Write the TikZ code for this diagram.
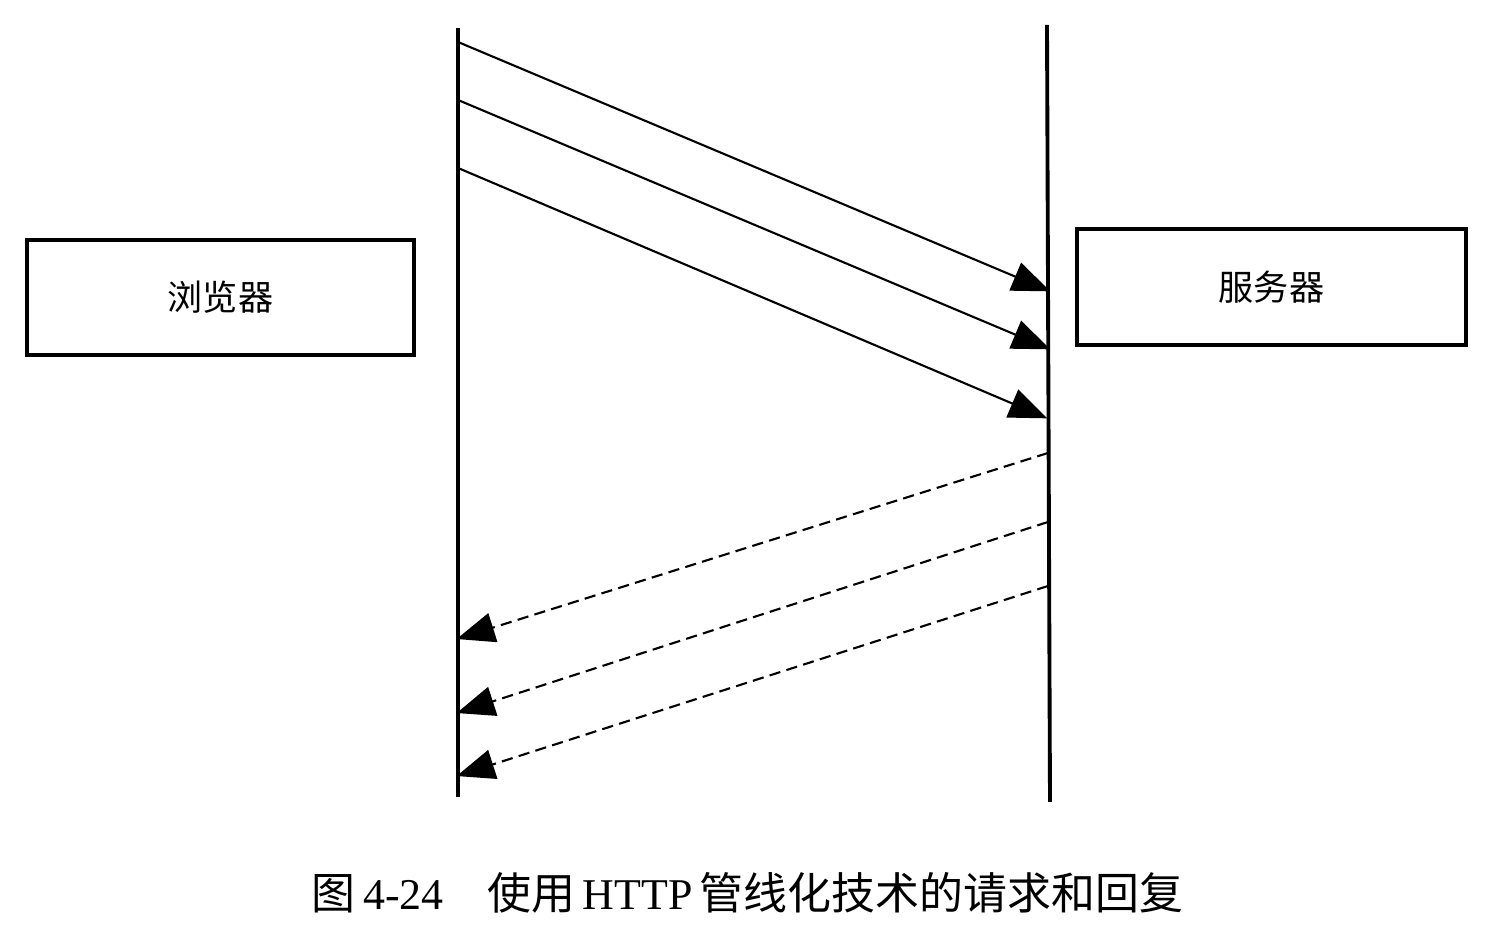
\documentclass[tikz,border=0pt]{standalone}
\usepackage{fontspec}
\setmainfont{Liberation Serif}
\newfontfamily\cjk{Noto Sans CJK SC}
\usetikzlibrary{arrows.meta}
\tikzset{
  box/.style={draw, line width=1.2pt, minimum width=3.87cm, minimum height=1.15cm,
    font=\cjk\fontsize{10}{12}\selectfont},
  life/.style={line width=1.1pt},
  msg/.style={-{Triangle[length=0.38cm,width=0.3cm]}, line width=0.6pt, shorten >=-1pt},
  reply/.style={msg, dash pattern=on 3.2pt off 1.8pt},
}
\begin{document}
\begin{tikzpicture}
      \useasboundingbox (0,0) rectangle (15,9.36);
      \node[box] (browser) at (2.205,6.385) {浏览器};
      \node[box, minimum width=3.89cm, minimum height=1.16cm] (server) at (12.715,6.49) {服务器};
      \path
        (4.58,9.08) coordinate (btop)
        (4.58,1.39) coordinate (bbot)
        (10.47,9.11) coordinate (stop)
        (10.50,1.34) coordinate (sbot)
        (4.58,8.94) coordinate (q0)
        (4.58,8.36) coordinate (q1)
        (4.58,7.68) coordinate (q2)
        (10.47,6.46) coordinate (a0)
        (10.47,5.88) coordinate (a1)
        (10.44,5.19) coordinate (a2)
        (10.48,4.83) coordinate (r0)
        (10.48,4.14) coordinate (r1)
        (10.48,3.50) coordinate (r2)
        (4.60,2.98) coordinate (p0)
        (4.60,2.24) coordinate (p1)
        (4.60,1.61) coordinate (p2);
      \draw[life] (btop) -- (bbot);
      \draw[life] (stop) -- (sbot);
      \begin{scope}[msg]
        \draw (q0) to (a0);
        \draw (q1) to (a1);
        \draw (q2) to (a2);
      \end{scope}
      \begin{scope}[reply]
        \draw (r0) to (p0);
        \draw (r1) to (p1);
        \draw (r2) to (p2);
      \end{scope}
      \node[font=\fontsize{12.5}{15}\selectfont] (caption) at (7.475,0.43)
        {{\cjk 图}\,4-24\hspace{1em}{\cjk 使用}\,HTTP\,{\cjk 管线化技术的请求和回复}};
    \end{tikzpicture}
\end{document}
